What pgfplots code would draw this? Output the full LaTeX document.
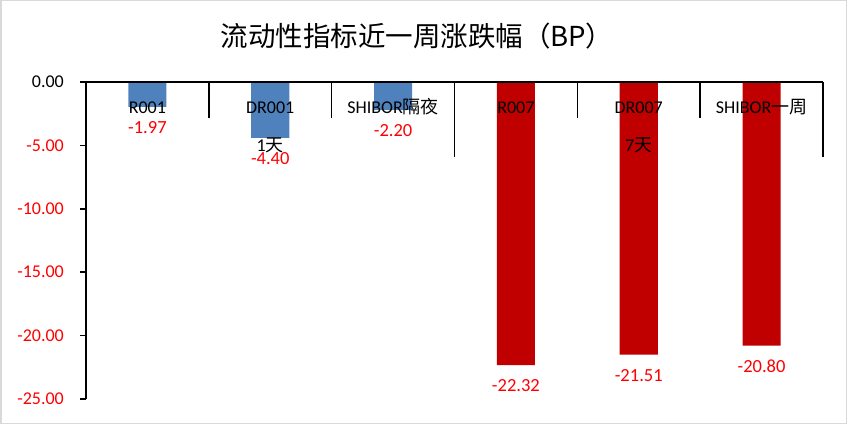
\documentclass[border=0pt]{standalone}
\usepackage{pgfplots}
\pgfplotsset{compat=1.18}
\usepackage{fontspec}
\setmainfont{Carlito}
\newfontfamily\cjk{Noto Sans CJK SC}
\definecolor{barblue}{HTML}{4F81BD}
\definecolor{barred}{HTML}{C00000}
\definecolor{lblred}{HTML}{FF0000}
\definecolor{framegray}{HTML}{D9D9D9}
\newcommand{\lab}[1]{\rule{0pt}{16pt}#1}
\begin{document}
\begin{tikzpicture}
\useasboundingbox (0,0) rectangle (847pt,424pt);
\draw[line width=1.5pt, framegray] (0.75pt,0.75pt) rectangle (846.25pt,423.25pt);
\node[font=\cjk\fontsize{27.5}{32}\selectfont, inner sep=0pt] at (417pt,388pt) {流动性指标近一周涨跌幅（BP）};
\begin{axis}[
  at={(86pt,25pt)}, anchor=south west,
  scale only axis, width=737pt, height=317pt,
  xmin=0.5, xmax=6.5, ymin=-25, ymax=0,
  axis x line*=middle, axis y line*=left,
  axis line style={line width=1.5pt, black, -},
  axis on top,
  ybar, bar shift=0pt, bar width=0.31,
  xtick={1,2,3,4,5,6},
  xticklabels={\lab{R001}, {\lab{DR001}\\1{\cjk 天}}, {\lab{SHIBOR{\cjk 隔夜}}}, \lab{R007}, {\lab{DR007}\\7{\cjk 天}}, {\lab{SHIBOR{\cjk 一周}}}},
  major x tick style={draw=none},
  xticklabel style={font=\fontsize{18}{38}\selectfont, align=center, anchor=north, inner sep=0pt, yshift=-9pt},
  ytick={-25,-20,-15,-10,-5,0},
  yticklabels={\textcolor{lblred}{-25.00}, \textcolor{lblred}{-20.00}, \textcolor{lblred}{-15.00}, \textcolor{lblred}{-10.00}, \textcolor{lblred}{-5.00}, 0.00},
  ytick align=outside, major tick length=6pt,
  major y tick style={line width=1.5pt, black},
  yticklabel style={font=\fontsize{18}{21}\selectfont, anchor=east, inner sep=0pt, xshift=-16pt},
  nodes near coords={\pgfmathprintnumber[fixed, fixed zerofill, precision=2, assume math mode=true]{\pgfplotspointmeta}},
  every node near coord/.append style={font=\fontsize{18.5}{21}\selectfont, text=lblred, anchor=center, yshift=-21pt},
  clip=false,
]
\addplot[fill=barblue, draw=none] coordinates {(1,-1.97) (2,-4.40) (3,-2.20)};
\addplot[fill=barred, draw=none] coordinates {(4,-22.32) (5,-21.51) (6,-20.80)};
\draw[line width=1.5pt] (axis cs:1.5,0) -- ([yshift=-36pt]axis cs:1.5,0);
\draw[line width=1.5pt] (axis cs:2.5,0) -- ([yshift=-36pt]axis cs:2.5,0);
\draw[line width=1.5pt] (axis cs:3.5,0) -- ([yshift=-75pt]axis cs:3.5,0);
\draw[line width=1.5pt] (axis cs:4.5,0) -- ([yshift=-36pt]axis cs:4.5,0);
\draw[line width=1.5pt] (axis cs:5.5,0) -- ([yshift=-36pt]axis cs:5.5,0);
\draw[line width=1.5pt] (axis cs:6.5,0) -- ([yshift=-75pt]axis cs:6.5,0);
\end{axis}
\end{tikzpicture}
\end{document}
